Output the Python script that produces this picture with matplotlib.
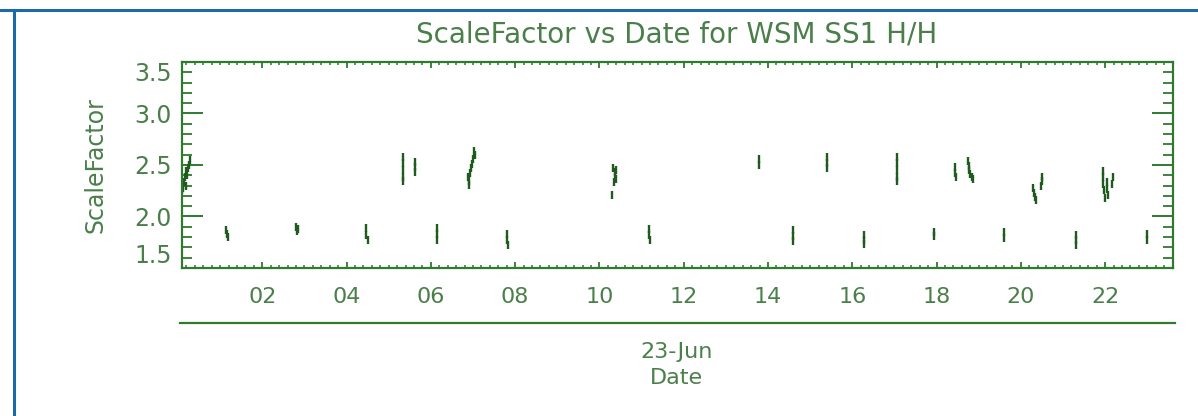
import matplotlib as mpl
mpl.use('Agg')
import matplotlib.pyplot as plt
from matplotlib.lines import Line2D
from matplotlib.ticker import MultipleLocator

# data: hour of day (23-Jun) and scale factor
hours = [0.10, 0.12, 0.14, 0.16, 0.18, 0.20, 0.22, 0.24, 0.26, 0.28,
         1.14, 1.16, 1.18,
         2.80, 2.82, 2.85,
         4.46, 4.47, 4.50,
         5.33, 5.34, 5.35, 5.34, 5.33,
         5.62, 5.62, 5.62,
         6.14, 6.15, 6.15,
         7.02, 7.04, 7.00, 6.98, 6.96, 6.92, 6.88, 6.90, 6.90,
         7.81, 7.81, 7.82,
         10.32, 10.36, 10.40, 10.36, 10.40, 10.34, 10.30,
         11.17, 11.18, 11.20,
         13.79, 13.79,
         14.59, 14.59, 14.59,
         15.40, 15.40, 15.40,
         16.29, 16.28, 16.27,
         17.06, 17.06, 17.06, 17.06, 17.06,
         17.94, 17.95,
         18.43, 18.45, 18.46, 18.74, 18.76, 18.78, 18.80, 18.84, 18.86,
         19.60, 19.60,
         20.30, 20.31, 20.33, 20.36, 20.50, 20.51, 20.49,
         21.32, 21.31, 21.30,
         21.94, 21.95, 21.96, 21.98, 22.04, 22.05, 22.06, 22.18, 22.17, 22.00,
         23.00, 23.00]
scale = [2.26, 2.28, 2.33, 2.38, 2.30, 2.44, 2.40, 2.47, 2.50, 2.55,
         1.87, 1.83, 1.80,
         1.90, 1.86, 1.88,
         1.89, 1.82, 1.77,
         2.58, 2.52, 2.45, 2.38, 2.34,
         2.53, 2.48, 2.43,
         1.89, 1.83, 1.77,
         2.64, 2.60, 2.56, 2.51, 2.47, 2.42, 2.38, 2.34, 2.31,
         1.83, 1.77, 1.72,
         2.47, 2.43, 2.45, 2.38, 2.36, 2.33, 2.21,
         1.88, 1.82, 1.77,
         2.56, 2.50,
         1.87, 1.81, 1.76,
         2.58, 2.52, 2.47,
         1.82, 1.77, 1.73,
         2.58, 2.52, 2.45, 2.38, 2.34,
         1.85, 1.81,
         2.48, 2.42, 2.38, 2.54, 2.49, 2.45, 2.41, 2.38, 2.36,
         1.85, 1.79,
         2.28, 2.23, 2.19, 2.16, 2.38, 2.34, 2.30,
         1.82, 1.77, 1.72,
         2.44, 2.38, 2.32, 2.26, 2.33, 2.27, 2.21, 2.38, 2.32, 2.18,
         1.83, 1.77]

xtick_pos = [2, 4, 6, 8, 10, 12, 14, 16, 18, 20, 22]
xtick_lab = ['02', '04', '06', '08', '10', '12', '14', '16', '18', '20', '22']
ytick_pos = [1.5, 2.0, 2.5, 3.0, 3.5]

green = '#2f7a2f'
txt = '#4a7f4a'
dots = '#1f5a1f'

mpl.rcParams['font.family'] = ['DejaVu Sans']

fig = plt.figure(figsize=(11.98, 4.16), dpi=100)
ax = fig.add_axes([0.1517, 0.3558, 0.8274, 0.4952])

ax.plot(hours, scale, ls='none', marker='|', ms=6, mew=1.7, color=dots)

ax.set_xlim(0.09, 23.61)
ax.set_ylim(1.5, 3.5)
ax.set_xticks(xtick_pos)
ax.set_xticklabels(xtick_lab)
ax.set_yticks(ytick_pos)
ax.xaxis.set_minor_locator(MultipleLocator(0.2))
ax.yaxis.set_minor_locator(MultipleLocator(0.1))

for s in ax.spines.values():
    s.set_color(green)
    s.set_linewidth(1.6)

ax.tick_params(axis='x', which='major', direction='in', length=4, width=1.3,
               color=green, top=True, labelsize=16, labelcolor=txt, pad=14)
ax.tick_params(axis='x', which='minor', direction='in', length=2, width=1.1,
               color=green, top=True)
ax.tick_params(axis='y', which='major', direction='in', length=15, width=1.4,
               color=green, right=True, labelsize=17, labelcolor=txt, pad=7)
ax.tick_params(axis='y', which='minor', direction='in', length=7, width=1.3,
               color=green, right=True)

ylabs = ax.get_yticklabels()
ylabs[0].set_va('bottom')
ylabs[-1].set_va('top')

ax.set_ylabel('ScaleFactor', fontsize=17, color=txt)
ax.yaxis.set_label_coords(-0.075, 0.5)

fig.text(0.565, 0.916, 'ScaleFactor vs Date for WSM SS1 H/H', ha='center', va='center',
         fontsize=20, color=txt)

# second date axis line under the hour labels
fig.add_artist(Line2D([0.1505, 0.9805], [0.2236, 0.2236], color=green, lw=1.6))
fig.text(0.565, 0.154, '23-Jun', ha='center', va='center', fontsize=16, color=txt)
fig.text(0.565, 0.0913, 'Date', ha='center', va='center', fontsize=16, color=txt)

# blue page frame
fig.add_artist(Line2D([0, 1], [0.976, 0.976], color='#1a6aa6', lw=2.2))
fig.add_artist(Line2D([0.0121, 0.0121], [0, 0.976], color='#1a6aa6', lw=2.2))

fig.savefig('out.png', dpi=100)
